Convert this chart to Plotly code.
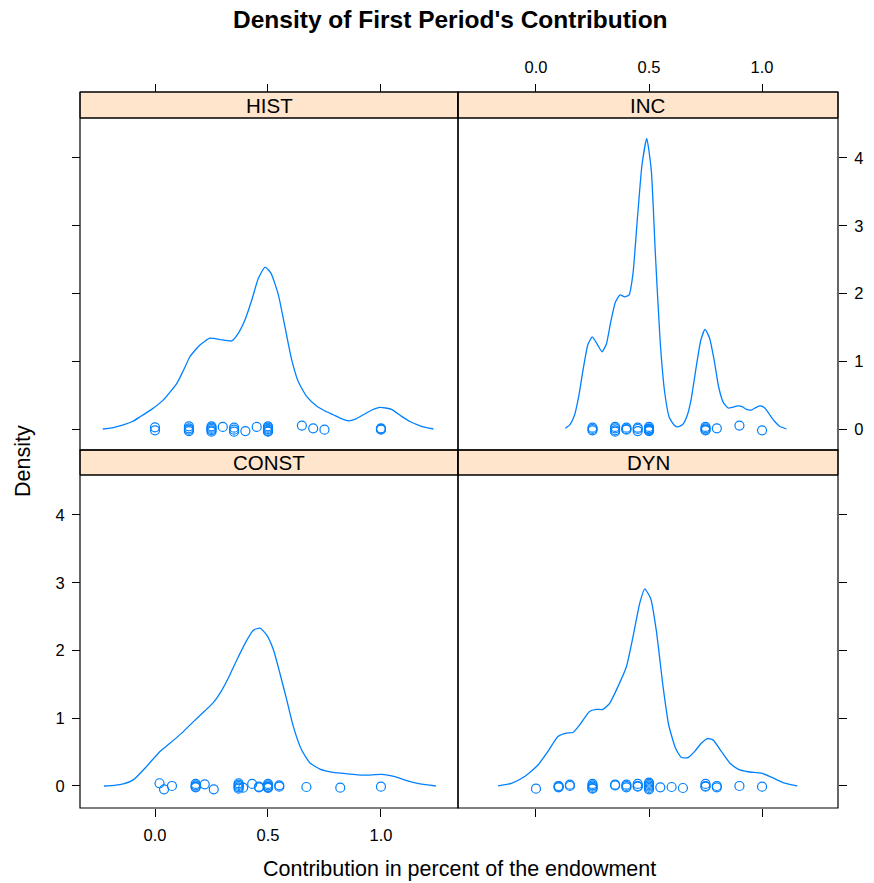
import plotly.graph_objects as go

# ---------------- data ----------------
panels = ["HIST", "INC", "CONST", "DYN"]

hist_x = [-0.231, -0.185, -0.140, -0.100, -0.066, -0.015, 0.037, 0.096, 0.125, 0.155, 0.199, 0.243,
          0.288, 0.339, 0.364, 0.398, 0.428, 0.457, 0.487, 0.513, 0.546, 0.575, 0.605, 0.634,
          0.671, 0.715, 0.750, 0.789, 0.820, 0.855, 0.890, 0.922, 0.960, 0.996, 1.047, 1.090,
          1.128, 1.180, 1.232]
hist_y = [0.0, 0.02, 0.06, 0.11, 0.18, 0.29, 0.43, 0.67, 0.86, 1.07, 1.24, 1.34,
          1.32, 1.30, 1.39, 1.61, 1.90, 2.22, 2.39, 2.30, 1.98, 1.51, 1.02, 0.70,
          0.48, 0.34, 0.27, 0.21, 0.16, 0.12, 0.15, 0.21, 0.28, 0.32, 0.29, 0.19,
          0.11, 0.04, 0.0]

inc_x = [0.130, 0.149, 0.171, 0.189, 0.208, 0.230, 0.249, 0.271, 0.292, 0.311, 0.330, 0.351,
         0.372, 0.392, 0.412, 0.429, 0.448, 0.469, 0.490, 0.510, 0.528, 0.549, 0.569, 0.590,
         0.611, 0.628, 0.650, 0.670, 0.687, 0.709, 0.729, 0.748, 0.768, 0.788, 0.808, 0.829,
         0.850, 0.869, 0.891, 0.912, 0.931, 0.953, 0.975, 0.993, 1.012, 1.034, 1.056, 1.078, 1.108]
inc_y = [0.01, 0.06, 0.21, 0.48, 0.87, 1.25, 1.36, 1.25, 1.14, 1.25, 1.57, 1.87,
         1.98, 1.95, 1.98, 2.29, 3.08, 3.90, 4.29, 3.82, 2.59, 1.31, 0.55, 0.17,
         0.06, 0.03, 0.07, 0.21, 0.45, 0.92, 1.31, 1.47, 1.34, 1.02, 0.62, 0.39,
         0.31, 0.32, 0.34, 0.33, 0.29, 0.28, 0.32, 0.34, 0.31, 0.21, 0.11, 0.04, 0.0]

const_x = [-0.226, -0.180, -0.140, -0.096, -0.037, 0.022, 0.066, 0.118, 0.170, 0.221, 0.258, 0.288,
           0.324, 0.362, 0.406, 0.435, 0.465, 0.494, 0.524, 0.553, 0.583, 0.612, 0.649, 0.686,
           0.730, 0.789, 0.848, 0.922, 1.003, 1.047, 1.080, 1.114, 1.173, 1.243]
const_y = [0.0, 0.01, 0.03, 0.09, 0.29, 0.51, 0.63, 0.78, 0.95, 1.11, 1.23, 1.37,
           1.59, 1.86, 2.15, 2.30, 2.33, 2.23, 2.01, 1.66, 1.27, 0.88, 0.53, 0.34,
           0.25, 0.20, 0.18, 0.16, 0.17, 0.15, 0.12, 0.08, 0.03, 0.0]

dyn_x = [-0.168, -0.109, -0.050, 0.009, 0.053, 0.097, 0.134, 0.164, 0.193, 0.237, 0.267, 0.296,
         0.326, 0.363, 0.400, 0.429, 0.459, 0.481, 0.507, 0.532, 0.562, 0.587, 0.617, 0.643,
         0.673, 0.702, 0.731, 0.758, 0.783, 0.820, 0.857, 0.894, 0.938, 0.997, 1.041, 1.093, 1.156]
dyn_y = [0.0, 0.04, 0.14, 0.31, 0.51, 0.73, 0.78, 0.79, 0.90, 1.10, 1.13, 1.13,
         1.22, 1.47, 1.76, 2.20, 2.70, 2.91, 2.77, 2.30, 1.47, 0.90, 0.56, 0.42,
         0.42, 0.51, 0.63, 0.70, 0.68, 0.51, 0.34, 0.25, 0.21, 0.19, 0.13, 0.05, 0.0]

# raw observations (x) and their vertical jitter (y)
hist_pts_x = [0, 0, 0.15, 0.15, 0.15, 0.15, 0.25, 0.25, 0.25, 0.25, 0.25, 0.30, 0.35, 0.35, 0.35,
              0.40, 0.45, 0.5, 0.5, 0.5, 0.5, 0.5, 0.5, 0.65, 0.70, 0.75, 1.0, 1.0, 1.0]
hist_pts_y = [0.025, -0.02, 0.04, 0.01, -0.01, -0.03, 0.04, 0.02, 0.0, -0.02, -0.04, 0.03, 0.02, -0.01, -0.04,
              -0.03, 0.03, 0.04, 0.02, 0.0, -0.01, -0.03, -0.04, 0.05, 0.01, -0.01, 0.01, -0.01, 0.0]

inc_pts_x = [0.25, 0.25, 0.25, 0.35, 0.35, 0.35, 0.35, 0.40, 0.40, 0.40, 0.45, 0.45, 0.45,
             0.5, 0.5, 0.5, 0.5, 0.5, 0.5, 0.75, 0.75, 0.75, 0.75, 0.80, 0.90, 1.0]
inc_pts_y = [0.02, 0.0, -0.02, 0.03, 0.01, -0.02, -0.04, 0.02, 0.0, -0.01, 0.02, 0.0, -0.03,
             0.03, 0.01, 0.0, -0.01, -0.02, -0.03, 0.03, 0.01, -0.01, -0.02, 0.01, 0.05, -0.02]

const_pts_x = [0.02, 0.04, 0.075, 0.18, 0.18, 0.18, 0.18, 0.22, 0.26, 0.37, 0.37, 0.37, 0.37, 0.37,
               0.39, 0.43, 0.46, 0.46, 0.5, 0.5, 0.5, 0.5, 0.5, 0.55, 0.55, 0.67, 0.82, 1.0]
const_pts_y = [0.04, -0.05, 0.0, 0.03, 0.01, -0.01, -0.02, 0.025, -0.05, 0.04, 0.02, 0.0, -0.02, -0.04,
               -0.025, 0.03, -0.02, -0.01, 0.03, 0.01, -0.01, -0.02, -0.03, 0.01, -0.01, -0.015, -0.025, -0.01]

dyn_pts_x = [0.0, 0.10, 0.10, 0.10, 0.15, 0.15, 0.25, 0.25, 0.25, 0.25, 0.25, 0.35, 0.35,
             0.40, 0.40, 0.40, 0.45, 0.45, 0.45, 0.5, 0.5, 0.5, 0.5, 0.5, 0.5,
             0.55, 0.60, 0.65, 0.75, 0.75, 0.75, 0.80, 0.80, 0.90, 1.0]
dyn_pts_y = [-0.04, 0.0, -0.01, -0.02, 0.02, 0.0, 0.03, 0.01, -0.01, -0.03, -0.04, 0.02, 0.01,
             0.02, 0.0, -0.02, 0.03, 0.0, -0.01, 0.05, 0.03, 0.01, -0.01, -0.03, -0.05,
             -0.02, -0.015, -0.03, 0.03, 0.0, -0.01, 0.0, -0.02, 0.0, -0.01]

x_ticks = [0.0, 0.5, 1.0]
x_ticktext = ["0.0", "0.5", "1.0"]
y_ticks = [0, 1, 2, 3, 4]

# ---------------- figure ----------------
W, H = 874, 883
col = "#0080ff"
FONT = "Liberation Sans, Arial, sans-serif"

def px_x(p):
    return p / W

def px_y(p):
    return (H - p) / H

xL = [px_x(80), px_x(458)]
xR = [px_x(458), px_x(838)]
yTop = [px_y(450), px_y(118)]
yBot = [px_y(808), px_y(475)]
stripTop = [px_y(118), px_y(92)]
stripBot = [px_y(475), px_y(450)]

fig = go.Figure()

curves = [(hist_x, hist_y), (inc_x, inc_y), (const_x, const_y), (dyn_x, dyn_y)]
pts = [(hist_pts_x, hist_pts_y), (inc_pts_x, inc_pts_y), (const_pts_x, const_pts_y), (dyn_pts_x, dyn_pts_y)]

for i in range(4):
    xa = "x" if i == 0 else f"x{i+1}"
    ya = "y" if i == 0 else f"y{i+1}"
    cx, cy = curves[i]
    fig.add_trace(go.Scatter(x=cx, y=cy, mode="lines", line=dict(color=col, width=1.3, shape="spline", smoothing=0.5),
                             xaxis=xa, yaxis=ya, showlegend=False, hoverinfo="skip"))
    px_, py_ = pts[i]
    fig.add_trace(go.Scatter(x=px_, y=py_, mode="markers",
                             marker=dict(symbol="circle-open", size=9, color=col, line=dict(width=1.2)),
                             xaxis=xa, yaxis=ya, showlegend=False, hoverinfo="skip"))

tickcommon = dict(ticks="outside", ticklen=8, tickwidth=1, tickcolor="black",
                  showgrid=False, zeroline=False, showline=False, ticklabelstandoff=4,
                  tickfont=dict(family=FONT, size=16.5, color="black"))

xr_left = [-0.332, 1.341]
xr_right = [-0.345, 1.336]
yr_top = [-0.31, 4.59]
yr_bot = [-0.325, 4.59]

fig.update_layout(
    width=W, height=H, margin=dict(l=0, r=0, t=0, b=0),
    plot_bgcolor="white", paper_bgcolor="white",
    # HIST
    xaxis=dict(domain=xL, range=xr_left, side="top", anchor="free", position=stripTop[1],
               tickvals=x_ticks, showticklabels=False, **tickcommon),
    yaxis=dict(domain=yTop, range=yr_top, side="left", anchor="free", position=xL[0],
               tickvals=y_ticks, showticklabels=False, **tickcommon),
    # INC
    xaxis2=dict(domain=xR, range=xr_right, side="top", anchor="free", position=stripTop[1],
                tickvals=x_ticks, ticktext=x_ticktext, **tickcommon),
    yaxis2=dict(domain=yTop, range=yr_top, side="right", anchor="free", position=xR[1],
                tickvals=y_ticks, **tickcommon),
    # CONST
    xaxis3=dict(domain=xL, range=xr_left, side="bottom", anchor="free", position=yBot[0],
                tickvals=x_ticks, ticktext=x_ticktext, **tickcommon),
    yaxis3=dict(domain=yBot, range=yr_bot, side="left", anchor="free", position=xL[0],
                tickvals=y_ticks, **tickcommon),
    # DYN
    xaxis4=dict(domain=xR, range=xr_right, side="bottom", anchor="free", position=yBot[0],
                tickvals=x_ticks, showticklabels=False, **tickcommon),
    yaxis4=dict(domain=yBot, range=yr_bot, side="right", anchor="free", position=xR[1],
                tickvals=y_ticks, showticklabels=False, **tickcommon),
)

shapes = []
annotations = []
boxes = [(xL, yTop, stripTop), (xR, yTop, stripTop), (xL, yBot, stripBot), (xR, yBot, stripBot)]
for name, (bx, by, sy) in zip(panels, boxes):
    shapes.append(dict(type="rect", xref="paper", yref="paper", x0=bx[0], x1=bx[1], y0=sy[0], y1=sy[1],
                       fillcolor="#FFE5CC", line=dict(color="black", width=1), layer="below"))
    shapes.append(dict(type="rect", xref="paper", yref="paper", x0=bx[0], x1=bx[1], y0=by[0], y1=sy[1],
                       fillcolor="rgba(0,0,0,0)", line=dict(color="black", width=1.2)))
    shapes.append(dict(type="line", xref="paper", yref="paper", x0=bx[0], x1=bx[1], y0=sy[0], y1=sy[0],
                       line=dict(color="black", width=1)))
    annotations.append(dict(text=name, xref="paper", yref="paper", x=(bx[0] + bx[1]) / 2,
                            y=(sy[0] + sy[1]) / 2, showarrow=False, xanchor="center", yanchor="middle",
                            font=dict(family=FONT, size=20.5, color="black")))

annotations.append(dict(text="<b>Density of First Period's Contribution</b>", xref="paper", yref="paper",
                        x=px_x(450), y=px_y(19), showarrow=False, xanchor="center", yanchor="middle",
                        font=dict(family=FONT, size=24.5, color="black")))
annotations.append(dict(text="Contribution in percent of the endowment", xref="paper", yref="paper",
                        x=px_x(459), y=px_y(869), showarrow=False, xanchor="center", yanchor="middle",
                        font=dict(family=FONT, size=21.5, color="black")))
annotations.append(dict(text="Density", xref="paper", yref="paper", textangle=-90,
                        x=px_x(23), y=px_y(461), showarrow=False, xanchor="center", yanchor="middle",
                        font=dict(family=FONT, size=21.5, color="black")))

fig.update_layout(shapes=shapes, annotations=annotations)
fig.write_html("out.html")
